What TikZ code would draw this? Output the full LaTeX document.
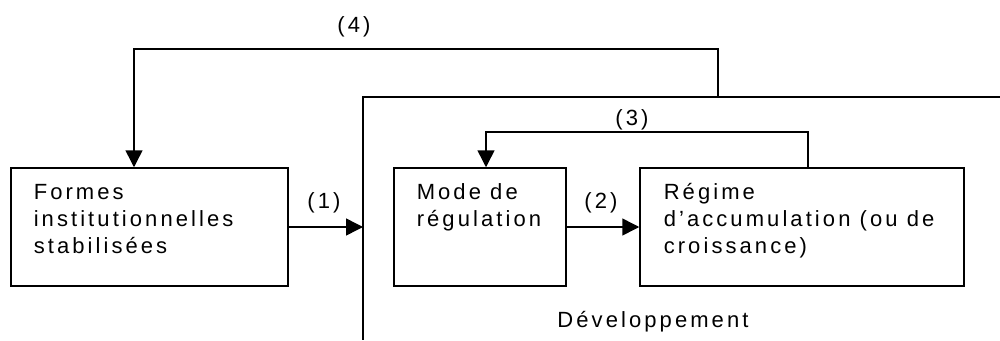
\documentclass[tikz,border=0pt]{standalone}
\usepackage{fontspec}
\setmainfont{Liberation Sans}[LetterSpace=14]
\usetikzlibrary{arrows.meta}
\begin{document}
\begin{tikzpicture}[x=1pt,y=-1pt,line width=1.5pt,
  box/.style={draw,rectangle,inner sep=0pt},
  txt/.style={anchor=base west,align=left,inner sep=0pt,font=\fontsize{22}{27}\selectfont},
  lbl/.style={inner sep=0pt,font=\fontsize{22}{27}\selectfont},
  arr/.style={-{Triangle[length=17pt,width=17pt]}}]
\useasboundingbox (0,0) rectangle (1000,340);
% boxes
\node[box,minimum width=277pt,minimum height=118pt] (b1) at (149.5,227) {};
\node[box,minimum width=172pt,minimum height=118pt] (b2) at (480,227) {};
\node[box,minimum width=324pt,minimum height=118pt] (b3) at (802,227) {};
% texts (anchor at baseline of last line)
\node[txt] (t1) at (33,253) {Formes\\institutionnelles\\stabilisées};
\node[txt] (t2) at (416,226) {Mode de\\régulation};
\node[txt] (t3) at (663,253) {Régime\\d’accumulation (ou de\\croissance)};
% frame
\coordinate (fr) at (1000,97);
\coordinate (fl) at (363,97);
\coordinate (fb) at (363,340);
\draw (fr) -- (fl) -- (fb);
% arrow 1
\draw[arr] (b1.east) -- (b1.east -| fl);
\node[lbl] (l1) at (324,203) {(1)};
% arrow 2
\draw[arr] (b2.east) -- (b3.west);
\node[lbl] (l2) at (601,203) {(2)};
% loop 3
\coordinate (c3a) at (808,132);
\coordinate (c3b) at (486,132);
\draw[arr] (b3.north -| c3a) -- (c3a) -- (c3b) -- (b2.north -| c3b);
\node[lbl] (l3) at (632,120) {(3)};
% loop 4
\coordinate (c4s) at (718,97);
\coordinate (c4a) at (718,49);
\coordinate (c4b) at (134,49);
\draw[arr] (c4s) -- (c4a) -- (c4b) -- (b1.north -| c4b);
\node[lbl] (l4) at (354,27) {(4)};
% label
\node[lbl] (dev) at (653,322) {Développement};
\end{tikzpicture}
\end{document}
